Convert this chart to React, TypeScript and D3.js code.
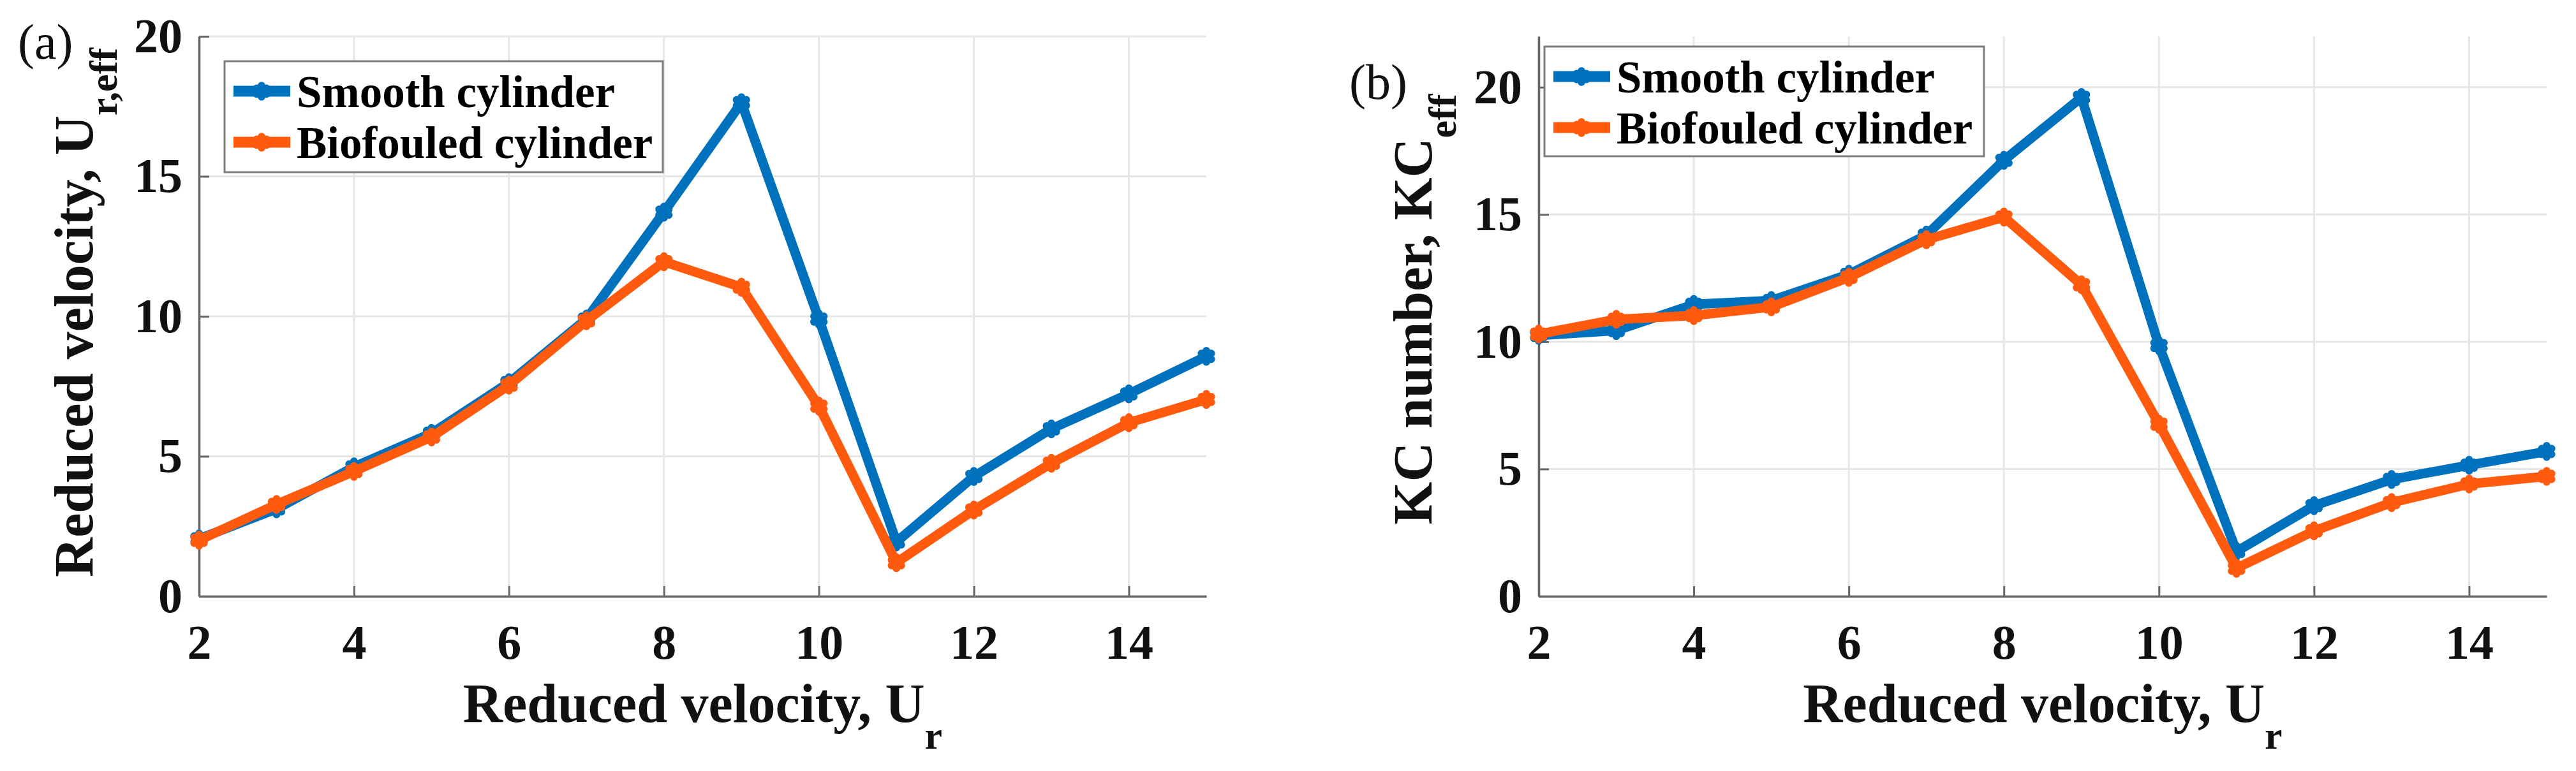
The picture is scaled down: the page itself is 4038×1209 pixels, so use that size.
import React, { useEffect, useRef } from 'react';
import * as d3 from 'd3';

const WIDTH = 4038;
const HEIGHT = 1209;
const FONT = '"Liberation Serif", "Times New Roman", Times, serif';

const BLUE = '#0072bd';
const ORANGE = '#ff5a0d';

// reduced velocity Ur (x axis, both panels)
const reducedVelocity = [2, 3, 4, 5, 6, 7, 8, 9, 10, 11, 12, 13, 14, 15];

// panel (a): effective reduced velocity
const smoothUrEff = [2.05, 3.12, 4.62, 5.82, 7.63, 9.9, 13.72, 17.63, 9.9, 1.94, 4.28, 5.98, 7.23, 8.57];
const biofouledUrEff = [2.0, 3.28, 4.46, 5.69, 7.54, 9.84, 11.95, 11.04, 6.79, 1.2, 3.08, 4.75, 6.2, 7.03];

// panel (b): effective KC number
const smoothKC = [10.25, 10.44, 11.47, 11.62, 12.65, 14.19, 17.13, 19.6, 9.85, 1.76, 3.56, 4.59, 5.15, 5.69];
const biofouledKC = [10.3, 10.88, 11.03, 11.37, 12.53, 14.01, 14.9, 12.24, 6.76, 1.1, 2.57, 3.68, 4.41, 4.71];

const xTicks = [2, 4, 6, 8, 10, 12, 14];
const yTicks = [0, 5, 10, 15, 20];
const seriesNames = ['Smooth cylinder', 'Biofouled cylinder'];

type Panel = {
  tag: string;
  left: number;
  right: number;
  top: number;
  bottom: number;
  yMax: number;
  series: number[][];
  yLabel: string;
  yLabelSub: string;
  yLabelPos: [number, number];
  tagPos: [number, number];
  legend: { x: number; y: number; w: number; h: number };
};

const PANELS: Panel[] = [
  {
    tag: '(a)',
    left: 312,
    right: 1891,
    top: 57,
    bottom: 935,
    yMax: 20,
    series: [smoothUrEff, biofouledUrEff],
    yLabel: 'Reduced velocity, U',
    yLabelSub: 'r,eff',
    yLabelPos: [145, 490],
    tagPos: [28, 92],
    legend: { x: 352, y: 96, w: 687, h: 174 },
  },
  {
    tag: '(b)',
    left: 2412,
    right: 3992,
    top: 57,
    bottom: 935,
    yMax: 22,
    series: [smoothKC, biofouledKC],
    yLabel: 'KC number, KC',
    yLabelSub: 'eff',
    yLabelPos: [2244, 485],
    tagPos: [2115, 155],
    legend: { x: 2421, y: 73, w: 689, h: 172 },
  },
];

const drawMarker = (g: d3.Selection<SVGGElement, unknown, null, undefined>, cx: number, cy: number, color: string) => {
  g.append('path')
    .attr('d', d3.symbol().type(d3.symbolAsterisk).size(220)())
    .attr('transform', `translate(${cx},${cy})`)
    .attr('fill', 'none')
    .attr('stroke', color)
    .attr('stroke-width', 12)
    .attr('stroke-linecap', 'round');
};

const drawPanel = (svg: d3.Selection<SVGSVGElement, unknown, null, undefined>, p: Panel) => {
  const x = d3.scaleLinear().domain([2, 15]).range([p.left, p.right]);
  const y = d3.scaleLinear().domain([0, p.yMax]).range([p.bottom, p.top]);
  const colors = [BLUE, ORANGE];

  const g = svg.append('g');

  // grid
  g.selectAll('line.gx')
    .data(xTicks)
    .join('line')
    .attr('x1', d => x(d))
    .attr('x2', d => x(d))
    .attr('y1', p.top)
    .attr('y2', p.bottom)
    .attr('stroke', '#e6e6e6')
    .attr('stroke-width', 3);
  g.selectAll('line.gy')
    .data(yTicks)
    .join('line')
    .attr('x1', p.left)
    .attr('x2', p.right)
    .attr('y1', d => y(d))
    .attr('y2', d => y(d))
    .attr('stroke', '#e6e6e6')
    .attr('stroke-width', 3);

  // axes
  const xAxis = g.append('g')
    .attr('transform', `translate(0,${p.bottom})`)
    .call(d3.axisBottom(x).tickValues(xTicks).tickSizeInner(-16).tickSizeOuter(0).tickPadding(44));
  const yAxis = g.append('g')
    .attr('transform', `translate(${p.left},0)`)
    .call(d3.axisLeft(y).tickValues(yTicks).tickSizeInner(-16).tickSizeOuter(0).tickPadding(26));

  [xAxis, yAxis].forEach(ax => {
    ax.attr('font-size', null).attr('font-family', null);
    ax.select('.domain').attr('stroke', '#666').attr('stroke-width', 3.5);
    ax.selectAll('.tick line').attr('stroke', '#666').attr('stroke-width', 3);
    ax.selectAll('.tick text')
      .attr('font-family', FONT)
      .attr('font-size', 76)
      .attr('font-weight', 'bold')
      .attr('fill', '#111');
  });

  // series
  const line = d3.line<number>()
    .x((_, i) => x(reducedVelocity[i]))
    .y(d => y(d));

  p.series.forEach((values, si) => {
    g.append('path')
      .datum(values)
      .attr('d', line)
      .attr('fill', 'none')
      .attr('stroke', colors[si])
      .attr('stroke-width', 15)
      .attr('stroke-linejoin', 'round');
    const mg = g.append('g');
    values.forEach((v, i) => drawMarker(mg, x(reducedVelocity[i]), y(v), colors[si]));
  });

  // legend
  const lg = svg.append('g').attr('transform', `translate(${p.legend.x},${p.legend.y})`);
  lg.append('rect')
    .attr('width', p.legend.w)
    .attr('height', p.legend.h)
    .attr('fill', '#fff')
    .attr('stroke', '#7d7d7d')
    .attr('stroke-width', 3);
  seriesNames.forEach((name, i) => {
    const rowY = 47 + i * 80;
    lg.append('line')
      .attr('x1', 14)
      .attr('x2', 103)
      .attr('y1', rowY)
      .attr('y2', rowY)
      .attr('stroke', colors[i])
      .attr('stroke-width', 17);
    drawMarker(lg, 58, rowY, colors[i]);
    lg.append('text')
      .attr('x', 113)
      .attr('y', rowY + 25)
      .attr('font-family', FONT)
      .attr('font-size', 71)
      .attr('font-weight', 'bold')
      .attr('fill', '#000')
      .text(name);
  });

  // axis labels
  const xl = svg.append('text')
    .attr('x', (p.left + p.right) / 2)
    .attr('y', 1132)
    .attr('text-anchor', 'middle')
    .attr('font-family', FONT)
    .attr('font-size', 86)
    .attr('font-weight', 'bold')
    .attr('fill', '#111');
  xl.append('tspan').text('Reduced velocity, U');
  xl.append('tspan').attr('dy', 42).attr('font-size', 62).text('r');

  const yl = svg.append('text')
    .attr('transform', `translate(${p.yLabelPos[0]},${p.yLabelPos[1]}) rotate(-90)`)
    .attr('text-anchor', 'middle')
    .attr('font-family', FONT)
    .attr('font-size', 86)
    .attr('font-weight', 'bold')
    .attr('fill', '#111');
  yl.append('tspan').text(p.yLabel);
  yl.append('tspan').attr('dy', 38).attr('font-size', 62).text(p.yLabelSub);

  svg.append('text')
    .attr('x', p.tagPos[0])
    .attr('y', p.tagPos[1])
    .attr('font-family', FONT)
    .attr('font-size', 78)
    .attr('fill', '#111')
    .text(p.tag);
};

const App: React.FC = () => {
  const svgRef = useRef<SVGSVGElement | null>(null);

  useEffect(() => {
    if (!svgRef.current) return;
    const svg = d3.select(svgRef.current);
    svg.selectAll('*').remove();
    PANELS.forEach(p => drawPanel(svg, p));
  }, []);

  return (
    <svg
      ref={svgRef}
      width={WIDTH}
      height={HEIGHT}
      viewBox={`0 0 ${WIDTH} ${HEIGHT}`}
      style={{ position: 'absolute', left: 0, top: 0, background: '#fff', display: 'block' }}
    />
  );
};

export default App;
